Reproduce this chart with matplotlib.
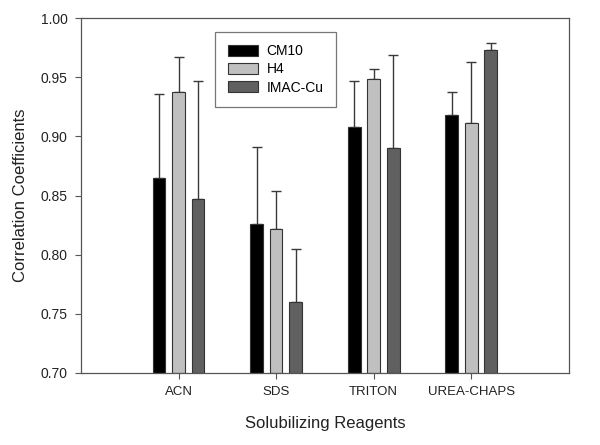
import matplotlib
matplotlib.use("Agg")
import matplotlib.pyplot as plt
import numpy as np

plt.rcParams['font.family'] = ['Liberation Sans', 'DejaVu Sans']

# Data
reagents = ["ACN", "SDS", "TRITON", "UREA-CHAPS"]
series = ["CM10", "H4", "IMAC-Cu"]
cm10 = [0.865, 0.826, 0.908, 0.918]
h4 = [0.938, 0.822, 0.949, 0.911]
imac = [0.847, 0.760, 0.890, 0.973]
# upper error bar ends
cm10_top = [0.936, 0.891, 0.947, 0.938]
h4_top = [0.967, 0.854, 0.957, 0.963]
imac_top = [0.947, 0.805, 0.969, 0.979]

colors = ["#000000", "#c0c0c0", "#606060"]
values = [cm10, h4, imac]
tops = [cm10_top, h4_top, imac_top]

fig = plt.figure(figsize=(6, 4.45), dpi=100)
ax = fig.add_axes([0.135, 0.162, 0.813, 0.797])

x = np.arange(1, len(reagents) + 1)
offsets = [-0.2, 0.0, 0.2]
for vals, top, col, off, name in zip(values, tops, colors, offsets, series):
    vals = np.array(vals)
    up = np.array(top) - vals
    err = np.vstack([np.zeros_like(up), up])
    ax.bar(x + off, vals - 0.70, bottom=0.70, width=0.13, color=col,
           edgecolor="#333333", linewidth=0.8, label=name, zorder=2,
           yerr=err, error_kw=dict(ecolor="#3a3a3a", elinewidth=1.0,
                                   capsize=3.6, capthick=1.0, zorder=1))

ax.set_xlim(0, 5)
ax.set_ylim(0.70, 1.00)
ax.set_xticks(x)
ax.set_xticklabels(reagents, fontsize=9.5)
yt = np.arange(0.70, 1.001, 0.05)
ax.set_yticks(yt)
ax.set_yticklabels([f"{v:.2f}" for v in yt], fontsize=10)
ax.tick_params(direction="out", length=4.5, width=0.8, color="#555555",
               labelcolor="#222222", pad=5)
for s in ax.spines.values():
    s.set_color("#555555")
    s.set_linewidth(0.9)

ax.set_xlabel("Solubilizing Reagents", fontsize=12, color="#222222", labelpad=13)
ax.set_ylabel("Correlation Coefficients", fontsize=12, color="#222222", labelpad=9)

leg = ax.legend(loc="upper left", bbox_to_anchor=(0.275, 0.962), fontsize=10,
                fancybox=False, framealpha=1, edgecolor="#777777",
                handlelength=2.2, handleheight=0.85, labelspacing=0.3,
                borderpad=0.9, handletextpad=0.6, borderaxespad=0)
leg.get_frame().set_linewidth(0.9)

fig.savefig("out.png", dpi=100)
